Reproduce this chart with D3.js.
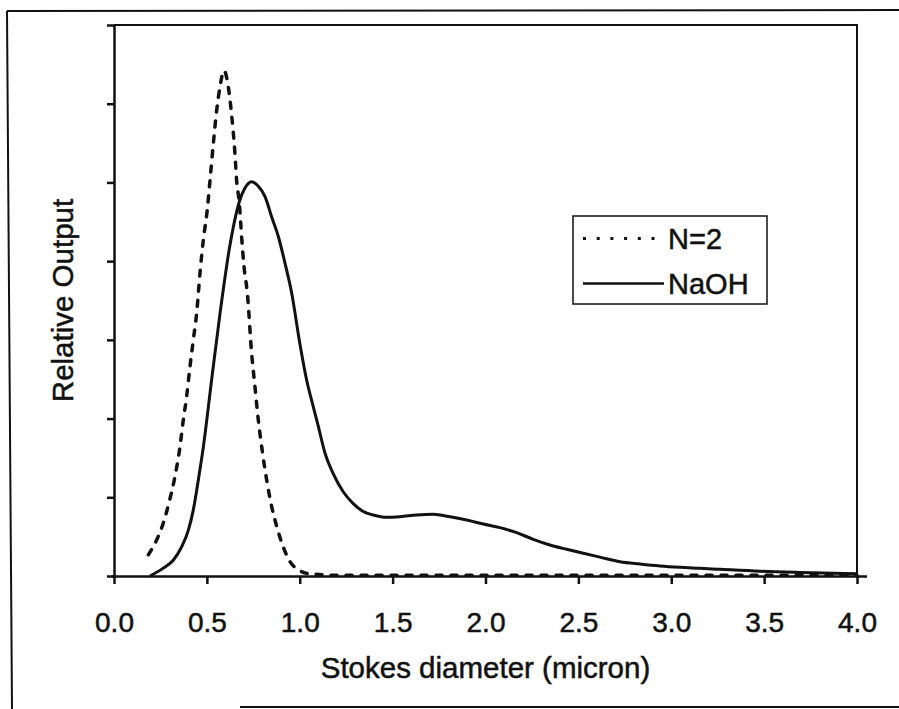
<!DOCTYPE html>
<html>
<head>
<meta charset="utf-8">
<script src="https://cdn.jsdelivr.net/npm/d3@7"></script>
<style>
  html, body { margin: 0; padding: 0; background: #fff; }
  svg { display: block; font-family: "Liberation Sans", Arial, sans-serif; }
  text { stroke: #111; stroke-width: 0.5px; }
</style>
</head>
<body>
<svg id="chart" width="899" height="709"></svg>
<script>
// Stokes diameter (micron) and relative output for each sample
const n2Diameter = [0.185, 0.23, 0.265, 0.30, 0.328, 0.355, 0.373, 0.391, 0.409, 0.427, 0.445, 0.463, 0.481, 0.502, 0.517, 0.535, 0.553, 0.571, 0.592, 0.615, 0.634, 0.651, 0.66, 0.675, 0.687, 0.70, 0.718, 0.741, 0.759, 0.777, 0.80, 0.822, 0.849, 0.876, 0.911, 0.948, 0.992, 1.05, 1.2, 1.5, 2.0, 2.5, 3.0, 3.5, 4.0];
const n2Output   = [0.27, 0.46, 0.67, 0.97, 1.26, 1.64, 1.98, 2.28, 2.66, 3.0, 3.34, 3.85, 4.27, 4.65, 5.03, 5.50, 5.92, 6.22, 6.42, 6.22, 5.84, 5.37, 5.03, 4.73, 4.31, 3.93, 3.59, 2.83, 2.40, 1.98, 1.56, 1.22, 0.88, 0.63, 0.37, 0.18, 0.08, 0.03, 0.01, 0.01, 0.01, 0.01, 0.01, 0.01, 0.01];

const naohDiameter = [0.194, 0.265, 0.319, 0.364, 0.40, 0.427, 0.454, 0.481, 0.526, 0.571, 0.624, 0.678, 0.705, 0.741, 0.777, 0.813, 0.849, 0.885, 0.921, 0.957, 1.0, 1.037, 1.073, 1.10, 1.136, 1.18, 1.234, 1.288, 1.342, 1.396, 1.468, 1.54, 1.63, 1.719, 1.809, 1.899, 1.988, 2.078, 2.168, 2.257, 2.347, 2.437, 2.527, 2.616, 2.724, 2.832, 2.939, 3.047, 3.155, 3.262, 3.478, 3.693, 4.0];
const naohOutput   = [0.0, 0.10, 0.20, 0.37, 0.58, 0.84, 1.22, 1.64, 2.50, 3.34, 4.20, 4.78, 4.93, 5.01, 4.95, 4.82, 4.56, 4.31, 3.97, 3.59, 2.96, 2.49, 2.15, 1.90, 1.56, 1.30, 1.07, 0.92, 0.82, 0.775, 0.745, 0.753, 0.775, 0.784, 0.753, 0.711, 0.66, 0.614, 0.55, 0.466, 0.394, 0.339, 0.288, 0.24, 0.182, 0.152, 0.127, 0.11, 0.098, 0.085, 0.06, 0.045, 0.03];

const xTicks = [0, 0.5, 1.0, 1.5, 2.0, 2.5, 3.0, 3.5, 4.0];
const yTicks = [0, 1, 2, 3, 4, 5, 6, 7];
const seriesNames = ["N=2", "NaOH"];

const svg = d3.select("#chart");
const plotLeft = 114, plotRight = 857, plotTop = 25, plotBottom = 576;

const x = d3.scaleLinear().domain([0, 4]).range([plotLeft, plotRight]);
const y = d3.scaleLinear().domain([0, 7]).range([plotBottom, plotTop]);

// outer frame around the figure
svg.append("path")
  .attr("d", "M7,11 L899,10 M7,11 L12,709 M240,707 L899,707")
  .attr("fill", "none").attr("stroke", "#111").attr("stroke-width", 2);

// plot frame (top and right sides)
svg.append("path")
  .attr("d", `M${plotLeft},${plotTop} L${plotRight},${plotTop} L${plotRight},${plotBottom}`)
  .attr("fill", "none").attr("stroke", "#111").attr("stroke-width", 2);

// x axis
const xAxis = svg.append("g")
  .attr("transform", `translate(0,${plotBottom})`)
  .call(d3.axisBottom(x).tickValues(xTicks).tickFormat(d3.format(".1f"))
    .tickSize(8).tickSizeOuter(0).tickPadding(28));
xAxis.select(".domain").attr("stroke", "#111").attr("stroke-width", 2.5)
  .attr("d", `M${plotLeft - 2},0.5H${plotRight + 10}`);
xAxis.selectAll(".tick line").attr("stroke", "#111").attr("stroke-width", 2.5);
xAxis.selectAll(".tick text").attr("fill", "#111").attr("font-size", 28)
  .attr("font-family", "Liberation Sans, Arial, sans-serif");

// y axis (ticks only, no labels)
const yAxis = svg.append("g")
  .attr("transform", `translate(${plotLeft},0)`)
  .call(d3.axisLeft(y).tickValues(yTicks).tickFormat("").tickSize(7).tickSizeOuter(0));
yAxis.select(".domain").attr("stroke", "#111").attr("stroke-width", 2.5);
yAxis.selectAll(".tick line").attr("stroke", "#111").attr("stroke-width", 2.5);

// axis titles
svg.append("text")
  .attr("x", (plotLeft + plotRight) / 2).attr("y", 678)
  .attr("text-anchor", "middle").attr("font-size", 29.5).attr("fill", "#111")
  .text("Stokes diameter (micron)");
svg.append("text")
  .attr("transform", `translate(73,${(plotTop + plotBottom) / 2}) rotate(-90)`)
  .attr("text-anchor", "middle").attr("font-size", 29.5).attr("fill", "#111")
  .text("Relative Output");

// curves
const line = d3.line().x(d => x(d[0])).y(d => y(d[1])).curve(d3.curveMonotoneX);
const n2Data = n2Diameter.map((d, i) => [d, n2Output[i]]);
const naohData = naohDiameter.map((d, i) => [d, naohOutput[i]]);

svg.append("path").datum(naohData)
  .attr("d", line).attr("fill", "none")
  .attr("stroke", "#111").attr("stroke-width", 3).attr("stroke-linejoin", "round");

svg.append("path").datum(n2Data)
  .attr("d", line).attr("fill", "none")
  .attr("stroke", "#111").attr("stroke-width", 3.5)
  .attr("stroke-dasharray", "6,9").attr("stroke-linecap", "round");

// legend
const lg = svg.append("g");
lg.append("rect").attr("x", 573).attr("y", 216).attr("width", 194).attr("height", 88)
  .attr("fill", "#fff").attr("stroke", "#111").attr("stroke-width", 1.5);
lg.append("line").attr("x1", 583).attr("x2", 665).attr("y1", 238.5).attr("y2", 238.5)
  .attr("stroke", "#111").attr("stroke-width", 3).attr("stroke-dasharray", "3,10.7");
lg.append("line").attr("x1", 583).attr("x2", 664).attr("y1", 283.5).attr("y2", 283.5)
  .attr("stroke", "#111").attr("stroke-width", 2.5);
lg.selectAll("text.lbl").data(seriesNames).enter().append("text")
  .attr("class", "lbl")
  .attr("x", 668).attr("y", (d, i) => i === 0 ? 248.5 : 293.5)
  .attr("font-size", 29).attr("fill", "#111")
  .text(d => d);
</script>
</body>
</html>
